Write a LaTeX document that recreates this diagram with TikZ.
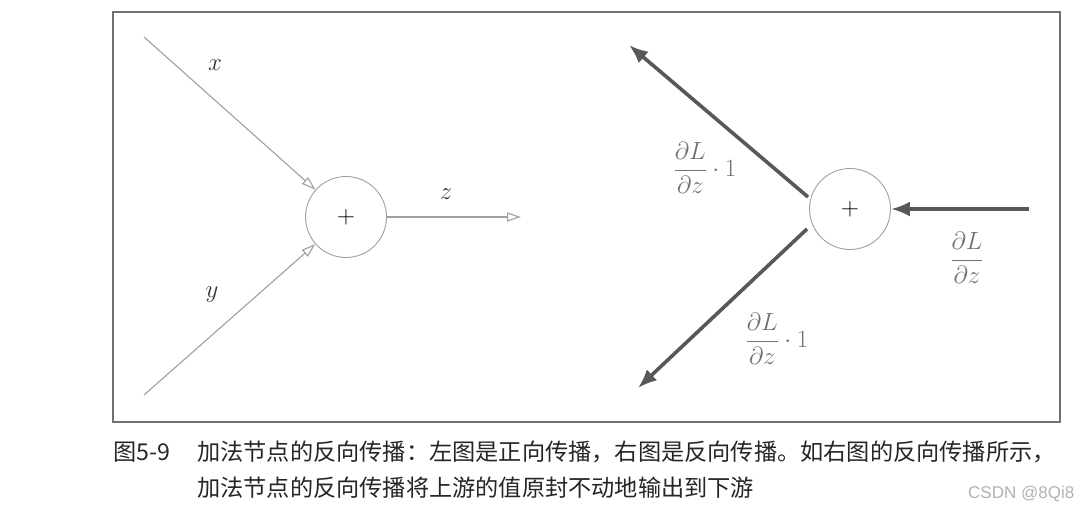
\documentclass[tikz,border=0pt]{standalone}
\usepackage{fontspec}
\usepackage{amsmath}
\usetikzlibrary{arrows.meta}
\newfontfamily\cjk{Noto Sans CJK SC}
\newfontfamily\wmfont{Liberation Sans}
\definecolor{lightln}{HTML}{A0A0A0}
\definecolor{darkln}{HTML}{585858}
\definecolor{lbl}{HTML}{707070}
\definecolor{framec}{HTML}{707070}
\tikzset{
  addnode/.style={circle, draw=lightln, line width=0.9pt, minimum size=81pt, inner sep=0pt, font=\fontsize{23}{28}\selectfont},
  fwd/.style={draw=lightln, line width=1.1pt, -{Triangle[open, length=14pt, width=9pt]}},
  bwd/.style={draw=darkln, line width=3.6pt, -{Latex[length=19pt, width=15pt]}},
  mlabel/.style={font=\fontsize{23}{28}\selectfont, text=black!80, inner sep=0pt},
  glabel/.style={font=\fontsize{23}{28}\selectfont, text=lbl, inner sep=0pt},
  captxt/.style={font=\cjk\fontsize{23.2}{28}\selectfont, text=black!85, anchor=base west, inner sep=0pt}
}
\begin{document}
\begin{tikzpicture}[x=1pt, y=-1pt]
\useasboundingbox (0,0) rectangle (1091,508);
\fill[white] (0,0) rectangle (1091,508);
\draw[framec, line width=1.6pt] (113,12) rectangle (1060,422);
% left: forward
\node[addnode] (addL) at (346,217) {$+$};
\coordinate (xs) at (144,37);
\coordinate (ys) at (144,395);
\coordinate (ze) at (521,217);
\draw[fwd] (xs) -- (addL);
\draw[fwd] (ys) -- (addL);
\draw[fwd] (addL) -- (ze);
\node[mlabel] (lx) at (215,65) {$x$};
\node[mlabel] (ly) at (212,295) {$y$};
\node[mlabel] (lz) at (446,194) {$z$};
% right: backward
\node[addnode] (addR) at (850,209) {$+$};
\coordinate (ins) at (1029,209);
\coordinate (us) at (808,197);
\coordinate (ue) at (629,45);
\coordinate (ls) at (807,229);
\coordinate (le) at (638,388);
\draw[bwd] (ins) -- (addR);
\draw[bwd] (us) -- (ue);
\draw[bwd] (ls) -- (le);
\node[glabel] (lu) at (705,168) {$\dfrac{\partial L}{\partial z}\cdot 1$};
\node[glabel] (lr) at (967,258) {$\dfrac{\partial L}{\partial z}$};
\node[glabel] (ll) at (777,339) {$\dfrac{\partial L}{\partial z}\cdot 1$};
% caption
\node[captxt] (cap0) at (113,460) {图5-9};
\node[captxt] (cap1) at (197,460) {加法节点的反向传播：左图是正向传播，右图是反向传播。如右图的反向传播所示，};
\node[captxt] (cap2) at (197,496) {加法节点的反向传播将上游的值原封不动地输出到下游};
\node[font=\wmfont\fontsize{17}{20}\selectfont, text=black!30, anchor=base west, inner sep=0pt] (wm) at (968,498) {CSDN @8Qi8};
\end{tikzpicture}
\end{document}
